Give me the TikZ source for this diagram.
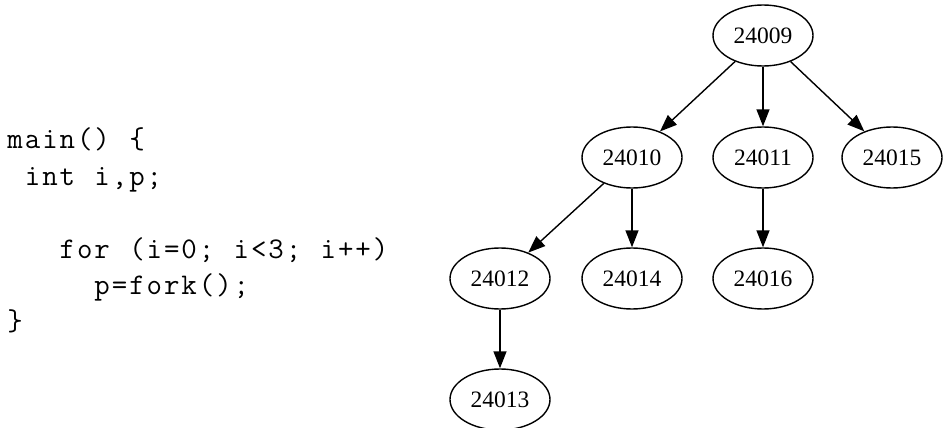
\documentclass[tikz,border=0pt]{standalone}
\usepackage{fontspec}
\newfontfamily\nodefont{Liberation Serif}
\usetikzlibrary{shapes.geometric,arrows.meta}
\makeatletter
\newcommand\monoline[1]{\@tfor\mono@c:=#1\do{\makebox[17.4pt][c]{\mono@c}}}
\makeatother
\begin{document}
\begin{tikzpicture}[x=1pt,y=-1pt,
  pnode/.style={ellipse,draw,line width=1.4pt,minimum width=100pt,minimum height=61pt,inner sep=0pt,font=\nodefont\fontsize{23.5}{26}\selectfont},
  edge/.style={line width=1.4pt,-{Triangle[length=17pt,width=13pt]}},
  codeline/.style={anchor=base west,inner sep=0pt,font=\ttfamily\fontsize{30}{36}\selectfont}]
\useasboundingbox (0,0) rectangle (945,428);
% code
\node[codeline] (c1) at (6.3,148) {\monoline{main()~\{}};
\node[codeline] (c2) at (23.7,185) {\monoline{int~i,p;}};
\node[codeline] (c3) at (58.5,258) {\monoline{for~(i=0;~i<3;~i++)}};
\node[codeline] (c4) at (93.3,294.5) {\monoline{p=fork();}};
\node[codeline] (c5) at (6.3,330) {\monoline{\}}};
% tree
\node[pnode] (n09) at (763,35.5) {24009};
\node[pnode] (n10) at (632,157.5) {24010};
\node[pnode] (n11) at (763,157.5) {24011};
\node[pnode] (n15) at (892,157.5) {24015};
\node[pnode] (n12) at (500,278.5) {24012};
\node[pnode] (n14) at (632,278.5) {24014};
\node[pnode] (n16) at (763,278.5) {24016};
\node[pnode] (n13) at (500,399.5) {24013};
\draw[edge] (n09) -- (n10);
\draw[edge] (n09) -- (n11);
\draw[edge] (n09) -- (n15);
\draw[edge] (n10) -- (n12);
\draw[edge] (n10) -- (n14);
\draw[edge] (n11) -- (n16);
\draw[edge] (n12) -- (n13);
\end{tikzpicture}
\end{document}
